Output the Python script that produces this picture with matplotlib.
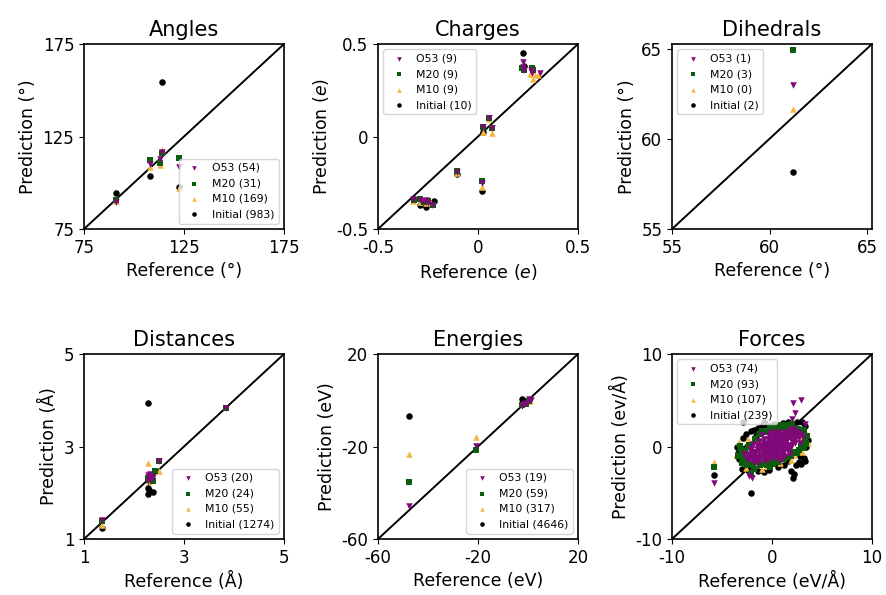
"""Parity plots: predicted vs reference values for each property."""

import matplotlib

matplotlib.use("Agg")
import matplotlib.pyplot as plt

# ---- data ------------------------------------------------------------------
# Angles
ang_o53 = [(113.8, 116.8), (108, 110.1), (113, 112.7), (122.5, 108.7), (91, 89.8)]
ang_m20 = [(108, 112.3), (113, 110.8), (122.5, 113.2), (113.8, 116.0), (91, 90.5)]
ang_m10 = [(113.8, 117.5), (108, 108.7), (113, 109.6), (122.5, 97.0), (91, 90.2)]
ang_ini = [(113.8, 154.3), (108, 103.8), (91, 94.6), (122.5, 97.5)]
ang_counts = [54, 31, 169, 983]

# Charges
chg_o53 = [(-0.325, -0.34), (-0.29, -0.345), (-0.275, -0.35), (-0.26, -0.345),
           (-0.25, -0.36), (-0.23, -0.37), (-0.107, -0.19), (0.018, -0.25),
           (0.027, 0.053), (0.055, 0.098), (0.072, 0.048), (0.223, 0.405),
           (0.225, 0.375), (0.23, 0.36), (0.265, 0.36), (0.27, 0.345), (0.31, 0.342)]
chg_m20 = [(-0.32, -0.345), (-0.29, -0.34), (-0.27, -0.355), (-0.25, -0.35),
           (-0.223, -0.37), (-0.107, -0.185), (0.018, -0.239), (0.027, 0.05),
           (0.055, 0.1), (0.072, 0.045), (0.22, 0.37), (0.228, 0.36),
           (0.268, 0.37), (0.275, 0.36)]
chg_m10 = [(-0.325, -0.35), (-0.29, -0.355), (-0.26, -0.36), (-0.235, -0.36),
           (-0.107, -0.195), (0.018, -0.271), (0.027, 0.026), (0.055, 0.095),
           (0.072, 0.02), (0.22, 0.38), (0.26, 0.34), (0.275, 0.31),
           (0.285, 0.33), (0.3, 0.33)]
chg_ini = [(-0.29, -0.37), (-0.26, -0.383), (-0.27, -0.365), (-0.22, -0.35),
           (-0.107, -0.2), (0.018, -0.295), (0.027, 0.026), (0.223, 0.45),
           (0.228, 0.38), (0.268, 0.37)]
chg_counts = [9, 9, 9, 10]

# Dihedrals
dih_o53 = [(61.19, 62.97)]
dih_m20 = [(61.19, 64.89)]
dih_m10 = [(61.19, 61.63)]
dih_ini = [(61.19, 58.17)]
dih_counts = [1, 3, 0, 2]

# Distances
dst_o53 = [(3.83, 3.83), (2.5, 2.69), (2.3, 2.35), (2.35, 2.3), (2.28, 2.25),
           (2.32, 2.4), (2.37, 2.33), (2.27, 2.38), (1.35, 1.41)]
dst_m20 = [(3.83, 3.83), (2.5, 2.69), (2.41, 2.48), (2.3, 2.3), (2.38, 2.25),
           (2.28, 2.32), (1.35, 1.4)]
dst_m10 = [(2.28, 2.64), (2.5, 2.47), (2.33, 2.3), (2.3, 2.25), (1.35, 1.3)]
dst_ini = [(2.27, 3.93), (2.28, 2.1), (2.28, 1.97), (2.3, 2.05), (2.38, 2.02),
           (2.3, 2.25), (1.35, 1.23)]
dst_counts = [20, 24, 55, 1274]

# Energies
ene_o53 = [(-47.5, -45.6), (-20.9, -19.7), (-2.5, -2.5), (-1.5, -1.5),
           (0.5, 0.5), (1.0, 0.0), (-0.5, -1.0)]
ene_m20 = [(-47.5, -35.5), (-20.9, -21.5), (-2.5, -2.0), (-1.0, -1.5), (0.5, -0.5)]
ene_m10 = [(-47.5, -23.4), (-20.9, -16.0), (0.8, -0.5), (-2.0, -1.0)]
ene_ini = [(-47.5, -6.7), (-2.5, 0.5), (-1.5, -0.5), (0.0, 0.0)]
ene_counts = [19, 59, 317, 4646]

# Forces
frc_o53 = [(-2.5, -1.3), (-2.2, -1.0), (-2.0, -1.4), (-1.8, -0.6), (-1.6, -1.1),
           (-1.5, -0.3), (-1.3, -0.8), (-1.2, 0.2), (-1.0, -0.5), (-0.9, 0.5),
           (-0.8, -1.0), (-0.6, 0.1), (-0.5, -0.6), (-0.4, 0.8), (-0.3, -0.2),
           (-0.2, 0.4), (-0.1, -1.2), (0.0, 0.0), (0.1, 0.7), (0.2, -0.5),
           (0.3, 1.1), (0.4, 0.2), (0.5, -0.9), (0.6, 0.6), (0.7, -0.2),
           (0.8, 1.3), (0.9, 0.3), (1.0, -0.6), (1.1, 0.9), (1.2, 0.0),
           (1.3, 1.5), (1.4, 0.5), (1.5, -0.3), (1.6, 1.0), (1.7, 0.2),
           (1.9, 1.4), (2.0, 0.6), (2.2, 1.8), (2.4, 0.9), (2.6, 1.3),
           (2.8, 0.4), (3.1, 1.0), (-2.8, -0.8), (-0.7, -1.6), (0.4, -1.4),
           (-1.9, 0.3), (1.8, -0.8), (2.1, 4.7), (2.9, 5.0), (2.3, 3.6),
           (2.0, 3.0), (-2.3, -3.2), (-2.0, -3.4), (-5.8, -3.9), (3.3, 2.4),
           (-1.0, 1.2), (0.0, 1.6), (0.9, -1.5), (-1.5, -1.8), (-0.3, 1.1),
           (0.6, -1.1), (1.3, -1.0), (-2.2, -0.3), (0.2, 0.3), (-0.6, -0.3),
           (-2.4, -0.8), (-2.1, -0.6), (-1.9, -1.0), (-1.7, -1.4), (-1.4, -1.3),
           (-1.1, -1.1), (-1.1, -0.2), (-0.9, -0.7), (-0.7, -0.4), (-0.7, 0.3),
           (-0.5, 0.4), (-0.4, -0.9), (-0.2, -0.8), (-0.1, 0.2), (0.1, -0.3),
           (0.1, 1.0), (0.3, -0.1), (0.3, 0.5), (0.5, 0.9), (0.5, 0.1),
           (0.7, 0.3), (0.8, -0.8), (0.9, 0.8), (1.0, 0.2), (1.1, -0.3),
           (1.2, 1.2), (1.3, 0.3), (1.5, 0.7), (1.6, -0.5), (1.8, 0.9),
           (1.9, 0.0), (2.1, 1.1), (2.3, 0.4), (2.5, 1.6), (-1.3, 0.6),
           (-0.2, 1.3), (0.7, 1.6), (1.6, 1.7), (-0.9, -1.4), (0.2, -1.0),
           (-2.6, -1.1), (-2.3, -1.5), (-2.0, -0.2), (-1.8, -1.7), (-1.6, -0.6),
           (-1.5, 0.2), (-1.3, -0.3), (-1.2, -1.5), (-1.0, 0.1), (-0.8, -0.2),
           (-0.8, 0.8), (-0.6, -1.2), (-0.5, -0.1), (-0.4, 0.3), (-0.3, -1.4),
           (-0.1, -0.5), (-0.1, 0.7), (0.0, -0.9), (0.2, 0.0), (0.2, 1.3),
           (0.4, -0.6), (0.4, 0.8), (0.6, -0.4), (0.6, 1.1), (0.8, 0.0),
           (0.8, 0.6), (1.0, -1.0), (1.0, 1.1), (1.2, -0.6), (1.2, 0.6),
           (1.4, 1.0), (1.4, -0.1), (1.7, 1.3), (1.7, -0.2), (2.0, 1.9),
           (2.0, 0.2), (2.2, 0.8), (2.4, 1.3), (2.7, 0.9), (2.9, 1.4)]
frc_m20 = [(-3.4, -1.0), (-3.0, -1.8), (-2.7, -0.5), (-2.5, -2.0), (-2.3, 0.2),
           (-2.0, -1.9), (-1.7, 0.8), (-1.5, -1.7), (-1.2, 1.3), (-0.9, -1.9),
           (-0.6, 1.6), (-0.3, -1.7), (0.0, 1.9), (0.3, -1.6), (0.6, 1.8),
           (0.9, -1.3), (1.2, 2.0), (1.5, -1.1), (1.8, 1.9), (2.1, -0.6),
           (2.4, 1.6), (2.7, -0.4), (3.0, 1.5), (3.3, 0.6), (3.5, 1.1),
           (-3.2, 0.1), (2.0, 2.4), (-1.8, -2.4), (0.5, 2.2), (-5.8, -2.2),
           (-2.1, -3.0), (1.0, 2.3), (-0.2, -2.2), (3.2, -0.2), (-2.8, -1.4),
           (-3.1, -0.4), (-2.9, -1.1), (-2.6, -1.6), (-2.4, -0.1), (-1.2, -2.0),
           (-0.5, -2.0), (0.1, -1.9), (0.6, -1.7), (1.2, -1.4), (1.9, -1.0),
           (2.5, -0.7), (2.9, 0.1), (3.4, 0.3), (-1.0, 1.7), (-0.2, 2.0),
           (0.3, 2.1), (1.5, 2.3), (2.6, 1.9), (3.2, 1.8)]
frc_m10 = [(-3.3, 0.5), (-3.6, -0.9), (-2.9, -1.6), (-2.4, 0.8), (-1.9, -2.2),
           (-1.3, 1.6), (-0.5, -2.1), (0.2, 2.1), (0.8, -1.8), (1.5, 2.2),
           (2.2, -0.9), (2.6, 2.0), (3.0, -0.6), (3.4, 1.5), (3.6, 0.4),
           (-5.8, -1.7), (1.9, -1.5), (-2.6, -2.3), (2.8, 0.9), (-1.0, -2.4)]
frc_ini = [(-3.5, 0.0), (-3.3, -1.3), (-3.0, -2.4), (-2.9, 0.9), (-2.6, 1.4),
           (-2.4, -2.5), (-2.1, 1.7), (-1.8, 1.8), (-1.4, 2.0), (-1.0, 2.2),
           (-0.6, 2.3), (-0.2, 2.2), (0.2, 2.4), (0.6, 2.3), (1.1, 2.5),
           (1.6, 2.6), (2.0, 2.0), (2.5, 2.6), (3.3, 2.2), (3.4, -0.1),
           (3.6, 0.7), (2.1, -3.4), (2.2, -3.0), (2.7, -1.7), (2.9, -1.9),
           (3.2, -1.2), (2.4, -2.0), (1.6, -1.6), (1.2, -2.0), (0.6, -2.2),
           (-0.3, -2.5), (-0.8, -2.8), (-1.4, -2.6), (-2.0, -2.0), (-2.1, -5.05),
           (-5.8, -3.1), (-2.9, 2.6), (-0.8, 2.6), (3.3, -1.6), (2.8, -1.0),
           (-3.4, -0.7), (-2.7, -0.2), (1.9, -2.6), (-1.6, 1.1), (3.0, 2.7)]
frc_counts = [74, 93, 107, 239]

SERIES = ["O53", "M20", "M10", "Initial"]
COLORS = {"O53": "#800878", "M20": "#0b5e0b", "M10": "#f5b642", "Initial": "black"}
MARKERS = {"O53": "v", "M20": "s", "M10": "^", "Initial": "o"}

PANELS = [
    ("Angles", [ang_o53, ang_m20, ang_m10, ang_ini], ang_counts, (75, 175),
     [75, 125, 175], ["75", "125", "175"], "(°)", "(°)", "lower right"),
    ("Charges", [chg_o53, chg_m20, chg_m10, chg_ini], chg_counts, (-0.5, 0.5),
     [-0.5, 0, 0.5], ["-0.5", "0", "0.5"], "($e$)", "($e$)", "upper left"),
    ("Dihedrals", [dih_o53, dih_m20, dih_m10, dih_ini], dih_counts, (55, 65.25),
     [55, 60, 65], ["55", "60", "65"], "(°)", "(°)", "upper left"),
    ("Distances", [dst_o53, dst_m20, dst_m10, dst_ini], dst_counts, (1, 5),
     [1, 3, 5], ["1", "3", "5"], "(Å)", "(Å)", "lower right"),
    ("Energies", [ene_o53, ene_m20, ene_m10, ene_ini], ene_counts, (-60, 20),
     [-60, -20, 20], ["-60", "-20", "20"], "(eV)", "(eV)", "lower right"),
    ("Forces", [frc_o53, frc_m20, frc_m10, frc_ini], frc_counts, (-10, 10),
     [-10, 0, 10], ["-10", "0", "10"], "(eV/Å)", "(ev/Å)", "upper left"),
]

LEFTS = [84, 378, 672]
TOPS = [44, 354]
W_PX, H_PX = 886, 595
AX_W, AX_H = 200, 185


def main() -> None:
    fig = plt.figure(figsize=(W_PX / 100, H_PX / 100), dpi=100)
    for i, (title, series, counts, lim, ticks, tlabels, xu, yu, loc) in enumerate(PANELS):
        row, col = divmod(i, 3)
        rect = [LEFTS[col] / W_PX, 1 - (TOPS[row] + AX_H) / H_PX, AX_W / W_PX, AX_H / H_PX]
        ax = fig.add_axes(rect)
        ax.plot(lim, lim, color="black", lw=1.4, zorder=1)
        handles = {}
        # draw Initial first so the models sit on top
        for name, pts in reversed(list(zip(SERIES, series))):
            xs = [p[0] for p in pts]
            ys = [p[1] for p in pts]
            handles[name] = ax.scatter(xs, ys, s=22, marker=MARKERS[name],
                                       color=COLORS[name], linewidths=0, zorder=2)
        ax.legend([handles[n] for n in SERIES],
                  [f"{n} ({c})" for n, c in zip(SERIES, counts)],
                  loc=loc, fontsize=7.8, handletextpad=0.6, markerscale=0.7)
        ax.set_xlim(lim)
        ax.set_ylim(lim)
        ax.set_xticks(ticks)
        ax.set_xticklabels(tlabels)
        ax.set_yticks(ticks)
        ax.set_yticklabels(tlabels)
        ax.tick_params(labelsize=12)
        ax.set_title(title, fontsize=15)
        ax.set_xlabel(f"Reference {xu}", fontsize=12.5)
        ax.set_ylabel(f"Prediction {yu}", fontsize=12.5)
        for sp in ax.spines.values():
            sp.set_linewidth(1.2)
    fig.savefig("out.png", dpi=100)


if __name__ == "__main__":
    main()
